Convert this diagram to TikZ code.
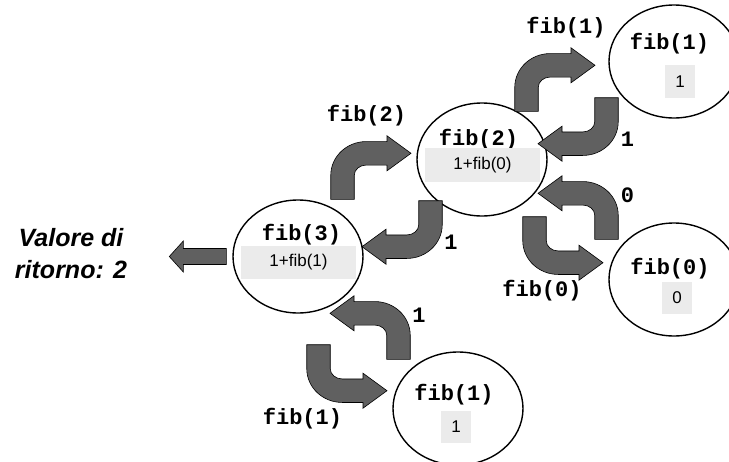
\documentclass[tikz,border=0pt]{standalone}
\usepackage{fontspec}
\setmainfont{Liberation Sans}
\setmonofont{Liberation Mono}
\usetikzlibrary{shapes.geometric}
\definecolor{arrowgray}{RGB}{96,96,96}
\definecolor{boxgray}{RGB}{235,235,235}
\tikzset{
  fibcall/.style = {ellipse, draw = black, line width = 1.4pt, minimum width = 130pt, minimum height = 113pt, inner sep = 0pt},
  fibtitle/.style = {font = \ttfamily\bfseries\fontsize{22}{22}\selectfont, inner sep = 0pt},
  edgetext/.style = {font = \ttfamily\bfseries\fontsize{22}{22}\selectfont, inner sep = 0pt},
  fibbox/.style = {fill = boxgray, font = \fontsize{17}{17}\selectfont, inner sep = 0pt},
  blockarrow/.style = {fill = arrowgray, draw = black, line width = 0.6pt},
  bentarrow/.pic = {
    \filldraw [blockarrow] (-11.75,0) -- (-11.75,24) arc [start angle = 180, end angle = 90, x radius = 35.5, y radius = 33.75] -- (44.5,57.75) -- (44.5,63.5) -- (68.5,46) -- (44.5,28.5) -- (44.5,34.25) -- (23.75,34.25) arc [start angle = 90, end angle = 180, x radius = 12, y radius = 10.25] -- (11.75,0) -- cycle;
  }
}
\begin{document}
\begin{tikzpicture}[x = 1pt, y = 1pt]
\useasboundingbox (0,0) rectangle (729,-461);
% calls
\node [fibcall] (fib3) at (298,-256.5) {};
\node [fibcall] (fib2) at (482,-159.5) {};
\node [fibcall] (fib1a) at (674,-61.5) {};
\node [fibcall] (fib0) at (674,-279.5) {};
\node [fibcall] (fib1b) at (458,-408.5) {};
\node [fibtitle] (t3) at (301.5,-235) {fib(3)};
\node [fibtitle] (t2) at (478.5,-139.5) {fib(2)};
\node [fibtitle] (t1a) at (669.5,-43.5) {fib(1)};
\node [fibtitle] (t0) at (670,-268.5) {fib(0)};
\node [fibtitle] (t1b) at (454,-395) {fib(1)};
\node [fibbox, minimum width = 115pt, minimum height = 33pt] (v3) at (298.5,-262.5) {1+fib(1)};
\node [fibbox, minimum width = 115pt, minimum height = 34pt] (v2) at (482.5,-165) {1+fib(0)};
\node [fibbox, minimum width = 30pt, minimum height = 33pt] (v1a) at (680,-81.5) {1};
\node [fibbox, minimum width = 30pt, minimum height = 32pt] (v0) at (677,-298) {0};
\node [fibbox, minimum width = 30pt, minimum height = 32pt] (v1b) at (456,-427) {1};
% arrows
\pic at ([xshift = 44.5pt]fib3.north) {bentarrow};
\pic at ([xshift = 44.5pt, yshift = -9pt]fib2.north) {bentarrow};
\pic [rotate = 180] at ([xshift = -67.5pt, yshift = 21pt]fib1a.south) {bentarrow};
\pic [rotate = 180] at ([xshift = -51.5pt, yshift = 16pt]fib2.south) {bentarrow};
\pic [xscale = -1] at ([xshift = -67.5pt, yshift = -17pt]fib0.north) {bentarrow};
\pic [yscale = -1] at ([xshift = 52.5pt]fib2.south) {bentarrow};
\pic [xscale = -1] at ([xshift = -59.5pt, yshift = -8pt]fib1b.north) {bentarrow};
\pic [yscale = -1] at ([xshift = 20.5pt, yshift = -31pt]fib3.south) {bentarrow};
\coordinate (tail) at ([xshift = -6pt]fib3.west);
\filldraw [blockarrow] ([yshift = 8pt]tail) -- ++(-43,0) -- ++(0,7.5) -- ++(-14,-15.5) -- ++(14,-15.5) -- ++(0,7.5) -- ++(43,0) -- cycle;
% labels
\node [edgetext] (l1a) at (566,-28) {fib(1)};
\node [edgetext] (l2) at (366.5,-115.5) {fib(2)};
\node [edgetext] (r1a) at (627.5,-139.5) {1};
\node [edgetext] (r0) at (627.5,-195.5) {0};
\node [edgetext] (r2) at (451,-242.5) {1};
\node [edgetext] (l0) at (542,-291) {fib(0)};
\node [edgetext] (r1b) at (419,-315) {1};
\node [edgetext] (l1b) at (302.5,-419) {fib(1)};
\node [font = \bfseries\itshape\fontsize{25}{32}\selectfont, align = center, inner sep = 0pt] (ret) at (71,-253.5) {Valore di\\ritorno: 2};
\end{tikzpicture}
\end{document}
